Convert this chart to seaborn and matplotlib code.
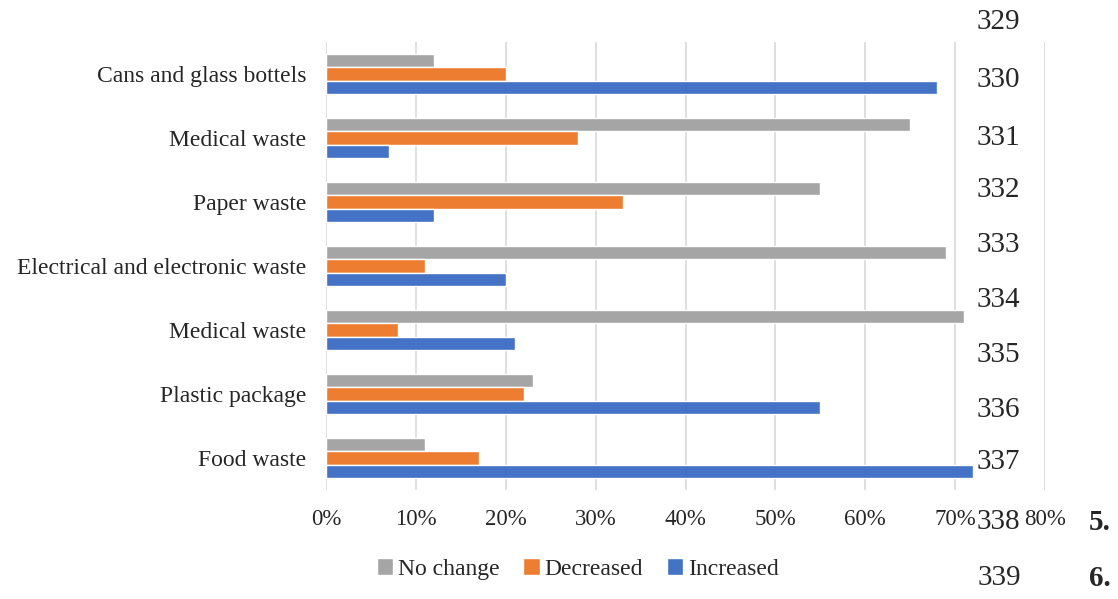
import matplotlib
matplotlib.use("Agg")
import matplotlib.pyplot as plt
import seaborn as sns
import pandas as pd
import numpy as np

categories = ["Cans and glass bottels", "Medical waste", "Paper waste",
              "Electrical and electronic waste", "Medical waste",
              "Plastic package", "Food waste"]
no_change = [12, 65, 55, 69, 71, 23, 11]
decreased = [20, 28, 33, 11, 8, 22, 17]
increased = [68, 7, 12, 20, 21, 55, 72]
series_names = ["No change", "Decreased", "Increased"]
colors = ["#A5A5A5", "#ED7D31", "#4472C4"]
x_ticks = [0, 10, 20, 30, 40, 50, 60, 70, 80]
x_tick_labels = ["0%", "10%", "20%", "30%", "40%", "50%", "60%", "70%", "80%"]
line_numbers = ["329", "330", "331", "332", "333", "334", "335", "336", "337", "338", "339"]

rows = []
for i, cat in enumerate(categories):
    for name, vals in zip(series_names, [no_change, decreased, increased]):
        rows.append({"idx": str(i), "series": name, "value": vals[i]})
df = pd.DataFrame(rows)

sns.set_theme(style="white")
plt.rcParams["font.family"] = ["Liberation Serif", "DejaVu Serif"]

fig = plt.figure(figsize=(11.18, 5.99), dpi=100)
ax = fig.add_axes([326/1118, 1-490/599, (1045-326)/1118, (490-42)/599])

sns.barplot(data=df, y="idx", x="value", hue="series", hue_order=series_names,
            palette=colors, orient="h", width=0.62, ax=ax, saturation=1,
            order=[str(i) for i in range(len(categories))])

ax.set_xlim(0, 80)
ax.set_ylim(len(categories) - 0.5, -0.5)
ax.set_xticks(x_ticks)
ax.set_xticklabels(x_tick_labels, fontsize=16.5)
ax.set_yticks(range(len(categories)))
ax.set_yticklabels(categories, fontsize=17)
ax.tick_params(axis="x", length=0, pad=14)
ax.tick_params(axis="y", length=0, pad=14)
ax.set_xlabel("")
ax.set_ylabel("")
ax.xaxis.grid(True, color="#D9D9D9", linewidth=1.2)
ax.set_axisbelow(True)
for s in ax.spines.values():
    s.set_visible(False)

leg = ax.legend(loc="upper center", bbox_to_anchor=(0.35, -0.105), ncol=3,
                frameon=False, fontsize=17, handlelength=0.7, handleheight=0.7,
                handletextpad=0.2, columnspacing=1.0)

# document line numbers overlay
ys = [22, 80, 138, 190, 245, 300, 355, 410, 462, 522, 578]
for lab, y in zip(line_numbers, ys):
    xpix = 998 if lab != "339" else 999
    fig.text(xpix/1118, 1 - y/599, lab, ha="center", va="center", fontsize=21)
fig.text(1100/1118, 1 - 522/599, "5.", ha="center", va="center", fontsize=21, fontweight="bold")
fig.text(1100/1118, 1 - 578/599, "6.", ha="center", va="center", fontsize=21, fontweight="bold")

fig.savefig("out.png", dpi=100)
